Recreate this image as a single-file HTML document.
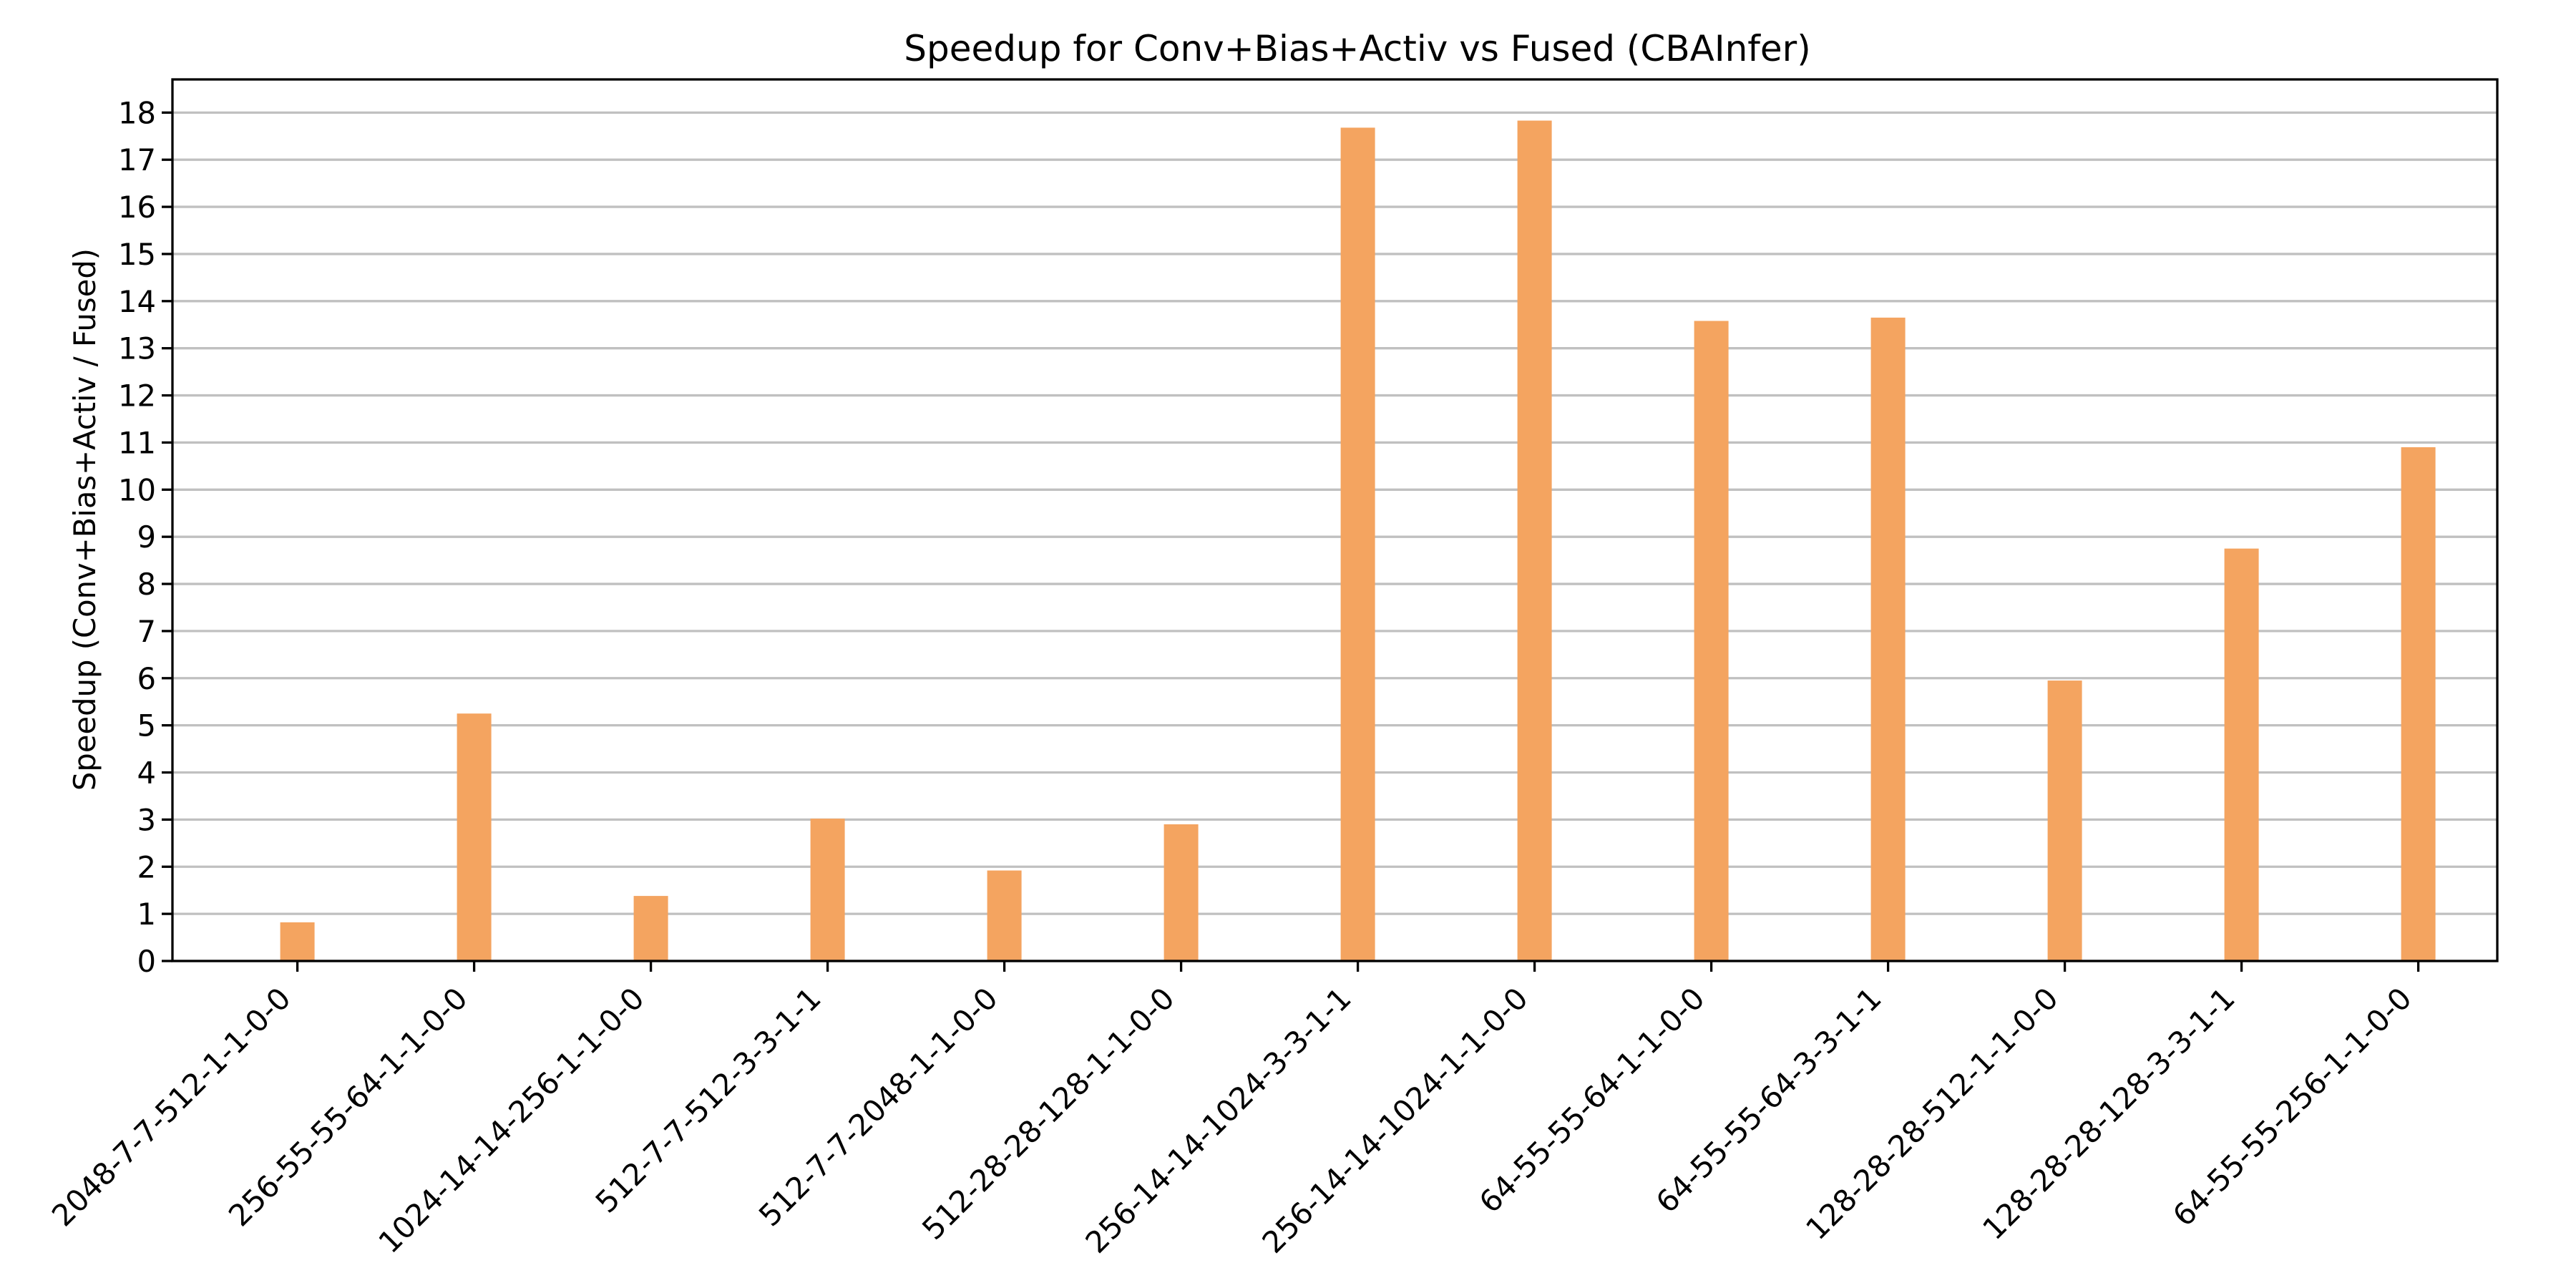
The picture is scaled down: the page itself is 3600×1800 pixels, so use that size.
<!DOCTYPE html>
<html><head><meta charset="utf-8"><style>
html,body{margin:0;padding:0;background:#fff;}
svg{display:block;font-family:"DejaVu Sans","Liberation Sans",sans-serif;}
</style></head><body>
<svg width="3600" height="1800" viewBox="0 0 3600 1800" xmlns="http://www.w3.org/2000/svg">
<rect width="3600" height="1800" fill="#fff"/>
<g id="grid" stroke="#c0c0c0" stroke-width="3.3"></g>
<g id="bars" fill="#f4a460"></g>
<rect x="241" y="111" width="3249" height="1232" fill="none" stroke="#000" stroke-width="3.3"/>
<g id="yt" font-size="41.7" text-anchor="end" fill="#000"></g>
<g id="xt" font-size="41.7" text-anchor="end" fill="#000"></g>
<text x="1897" y="85" font-size="50" text-anchor="middle">Speedup for Conv+Bias+Activ vs Fused (CBAInfer)</text>
<text transform="translate(133,726) rotate(-90)" font-size="41.7" text-anchor="middle">Speedup (Conv+Bias+Activ / Fused)</text>
</svg>
<script>
var ns="http://www.w3.org/2000/svg";
function el(t,a,p,txt){var e=document.createElementNS(ns,t);for(var k in a)e.setAttribute(k,a[k]);if(txt)e.textContent=txt;document.getElementById(p).appendChild(e);}
var y0=1343,u=65.87;
for(var i=0;i<=18;i++){var y=y0-i*u;
 el("line",{x1:241,x2:3490,y1:y,y2:y},"grid");
 el("line",{x1:226,x2:241,y1:y,y2:y,stroke:"#000","stroke-width":3.3},"yt");
 el("text",{x:218,y:y+15},"yt",String(i));}
var v=[0.82,5.25,1.38,3.02,1.92,2.9,17.68,17.83,13.58,13.65,5.95,8.75,10.9];
var L=["2048-7-7-512-1-1-0-0","256-55-55-64-1-1-0-0","1024-14-14-256-1-1-0-0","512-7-7-512-3-3-1-1","512-7-7-2048-1-1-0-0","512-28-28-128-1-1-0-0","256-14-14-1024-3-3-1-1","256-14-14-1024-1-1-0-0","64-55-55-64-1-1-0-0","64-55-55-64-3-3-1-1","128-28-28-512-1-1-0-0","128-28-28-128-3-3-1-1","64-55-55-256-1-1-0-0"];
for(var i=0;i<13;i++){var c=415.6+i*247;
 el("rect",{x:c-24,y:y0-v[i]*u,width:48,height:v[i]*u},"bars");
 el("line",{x1:c,x2:c,y1:1343,y2:1358,stroke:"#000","stroke-width":3.3},"xt");
 var ex=c-7,ey=1398;
 el("text",{x:ex,y:ey,transform:"rotate(-45 "+ex+" "+ey+")"},"xt",L[i]);}
</script>
</body></html>
